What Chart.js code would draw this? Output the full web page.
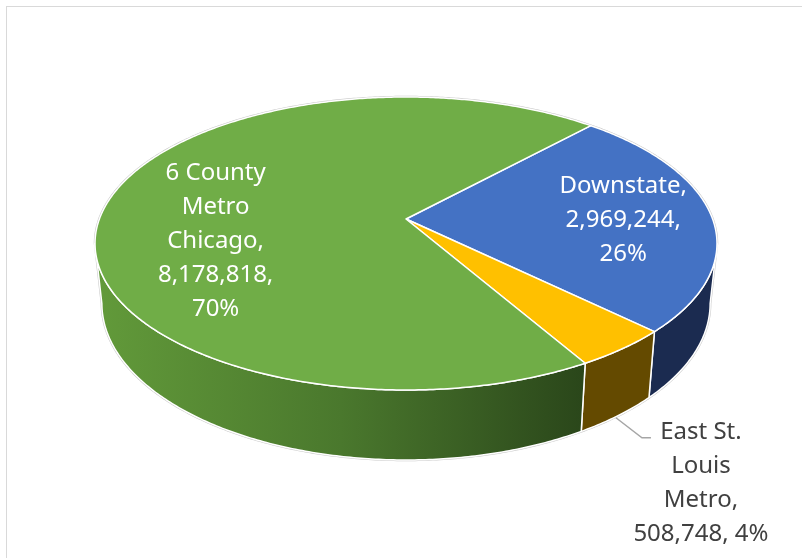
<!DOCTYPE html>
<html>
<head>
<meta charset="utf-8">
<script src="https://cdn.jsdelivr.net/npm/chart.js@4.4.1/dist/chart.umd.min.js"></script>
<style>
  html, body { margin: 0; padding: 0; background: #fff; }
  #wrap { position: relative; width: 802px; height: 558px; overflow: hidden; }
  #frame { position: absolute; left: 6px; top: 6px; width: 820px; height: 580px;
           border-top: 1px solid #d9d9d9; border-left: 1px solid #d9d9d9; }
  canvas { position: absolute; left: 0; top: 0; }
</style>
</head>
<body>
<div id="wrap">
  <div id="frame"></div>
  <canvas id="pie" width="802" height="558"></canvas>
</div>
<script>
// Illinois population by region
const categories = ['Downstate', 'East St. Louis Metro', '6 County Metro Chicago'];
const population = [2969244, 508748, 8178818];
const pctLabels = ['26%', '4%', '70%'];

const topColors = ['#4472c4', '#ffc000', '#70ad47'];
const sideColors = ['#1b2b50', '#644a00', 'gradient'];

// how many words go on each line of a data label
const wordsPerLine = [[1, 1, 1], [2, 1, 1, 2], [2, 1, 1, 1, 1]];

// label placement: radius on the top face plus a nudge, or outside with a leader
const labelPos = [
  { r: 0.711, dx: 0, dy: 4, color: '#ffffff' },
  { outside: true, color: '#404040' },
  { r: 0.632, dx: 0, dy: 32, color: '#ffffff' }
];

// perspective disc: top face and base
const disc = { cx: 406, ax: 306.6, ay: 105.78, cy: 219, persp: -0.1672, depth: 58.3, base: 0.978 };

function project(r, a, bottom) {
  const u = r * Math.cos(a), v = r * Math.sin(a);
  const d = 1 + disc.persp * v;
  const k = bottom ? disc.base : 1;
  return {
    x: disc.cx + disc.ax * u * k / d,
    y: (disc.ay * v + disc.cy) / d + (bottom ? disc.depth / d : 0)
  };
}

function arcPoints(ctx, a0, a1, bottom, first) {
  const steps = Math.max(2, Math.ceil(Math.abs(a1 - a0) / 0.01));
  for (let i = 0; i <= steps; i++) {
    const p = project(1, a0 + (a1 - a0) * i / steps, bottom);
    if (i === 0 && first) ctx.moveTo(p.x, p.y); else ctx.lineTo(p.x, p.y);
  }
}

const fmt = n => n.toLocaleString('en-US');

function labelLines(i) {
  const words = `${categories[i]}, ${fmt(population[i])}, ${pctLabels[i]}`.split(' ');
  const lines = [];
  let k = 0;
  wordsPerLine[i].forEach(n => { lines.push(words.slice(k, k + n).join(' ')); k += n; });
  return lines;
}

const pie3d = {
  id: 'pie3d',
  beforeDatasetsDraw(chart) {
    const ctx = chart.ctx;
    const arcs = chart.getDatasetMeta(0).data;
    const lim0 = Math.asin(-disc.persp), lim1 = Math.PI - lim0;
    ctx.save();
    ctx.lineJoin = 'round';

    // faint outline round the whole solid
    ctx.beginPath();
    arcPoints(ctx, lim1, lim0 + 2 * Math.PI, false, true);
    arcPoints(ctx, lim0, lim1, true, false);
    ctx.closePath();
    ctx.strokeStyle = '#c8c8c8';
    ctx.lineWidth = 2.5;
    ctx.stroke();

    // outer walls, only the part that faces the front
    const grad = ctx.createLinearGradient(96, 0, 640, 0);
    grad.addColorStop(0, '#629a3a');
    grad.addColorStop(0.45, '#4a782d');
    grad.addColorStop(0.9, '#2a461a');
    grad.addColorStop(1, '#263f17');
    arcs.forEach((el, i) => {
      const s = el.startAngle, e = el.endAngle;
      for (let k = -1; k <= 1; k++) {
        const a0 = Math.max(s, lim0 + 2 * Math.PI * k);
        const a1 = Math.min(e, lim1 + 2 * Math.PI * k);
        if (a1 <= a0) continue;
        ctx.beginPath();
        arcPoints(ctx, a0, a1, false, true);
        arcPoints(ctx, a1, a0, true, false);
        ctx.closePath();
        ctx.fillStyle = sideColors[i] === 'gradient' ? grad : sideColors[i];
        ctx.fill();
        ctx.strokeStyle = '#ffffff';
        ctx.lineWidth = 1.5;
        ctx.stroke();
      }
    });

    // top faces
    const c = project(0, 0, false);
    arcs.forEach((el, i) => {
      ctx.beginPath();
      ctx.moveTo(c.x, c.y);
      arcPoints(ctx, el.startAngle, el.endAngle, false, false);
      ctx.closePath();
      ctx.fillStyle = topColors[i];
      ctx.fill();
      ctx.strokeStyle = '#ffffff';
      ctx.lineWidth = 1.5;
      ctx.stroke();
    });
    ctx.restore();
    return false;
  },
  afterDraw(chart) {
    const ctx = chart.ctx;
    const arcs = chart.getDatasetMeta(0).data;
    const lineH = 34;
    ctx.save();
    ctx.font = '24px "Noto Sans"';
    ctx.textAlign = 'center';
    ctx.textBaseline = 'middle';
    arcs.forEach((el, i) => {
      const pos = labelPos[i];
      const mid = (el.startAngle + el.endAngle) / 2;
      const lines = labelLines(i);
      let x, y;
      if (pos.outside) {
        const p = project(1, mid, true);
        const knee = { x: p.x + 24, y: p.y + 22 };
        ctx.beginPath();
        ctx.moveTo(p.x - 2, p.y + 2);
        ctx.lineTo(knee.x, knee.y);
        ctx.lineTo(knee.x + 9, knee.y);
        ctx.strokeStyle = '#a6a6a6';
        ctx.lineWidth = 1.5;
        ctx.stroke();
        x = knee.x + 59;
        y = knee.y - 6 + (lines.length - 1) * lineH / 2;
      } else {
        const p = project(pos.r, mid, false);
        x = p.x + pos.dx;
        y = p.y + pos.dy;
      }
      ctx.fillStyle = pos.color;
      lines.forEach((t, j) => {
        ctx.fillText(t, x, y + (j - (lines.length - 1) / 2) * lineH);
      });
    });
    ctx.restore();
  }
};

new Chart(document.getElementById('pie'), {
  type: 'pie',
  data: {
    labels: categories,
    datasets: [{ data: population, backgroundColor: topColors, borderWidth: 0 }]
  },
  options: {
    responsive: false,
    devicePixelRatio: 1,
    animation: false,
    rotation: 42.6,
    plugins: { legend: { display: false }, tooltip: { enabled: false } }
  },
  plugins: [pie3d]
});
</script>
</body>
</html>
